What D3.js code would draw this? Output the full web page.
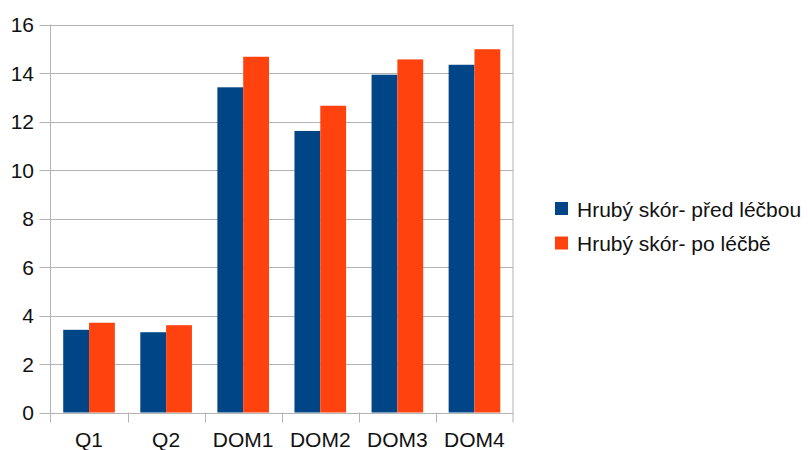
<!DOCTYPE html>
<html>
<head>
<meta charset="utf-8">
<script src="https://cdn.jsdelivr.net/npm/d3@7"></script>
<style>
body { margin: 0; background: #fff; }
text { font-family: "Liberation Sans", Arial, sans-serif; fill: #111; }
</style>
</head>
<body>
<svg id="chart" width="808" height="450"></svg>
<script>
var categories = ['Q1', 'Q2', 'DOM1', 'DOM2', 'DOM3', 'DOM4'];
var seriesNames = ['Hrubý skór- před léčbou', 'Hrubý skór- po léčbě'];
var before = [3.41, 3.31, 13.41, 11.61, 13.93, 14.34];
var after = [3.70, 3.60, 14.67, 12.65, 14.56, 14.98];
var yTicks = [0, 2, 4, 6, 8, 10, 12, 14, 16];
var colors = ['#004586', '#ff420e'];

var svg = d3.select('#chart');
var plotLeft = 50.5, plotRight = 513, plotTop = 24.5, plotBottom = 412.5;

var x = d3.scaleBand().domain(categories).range([plotLeft, plotRight]).paddingInner(0.33).paddingOuter(0.165);
var xSub = d3.scaleBand().domain([0, 1]).range([0, x.bandwidth()]);
var y = d3.scaleLinear().domain([0, 16]).range([plotBottom, plotTop]);

// grid
svg.append('g').selectAll('line').data(yTicks).enter().append('line')
	.attr('x1', plotLeft - 11).attr('x2', plotRight)
	.attr('y1', d => Math.round(y(d)) + 0.5).attr('y2', d => Math.round(y(d)) + 0.5)
	.attr('stroke', '#b3b3b3').attr('stroke-width', 1);

// bars
var data = categories.map((c, i) => [before[i], after[i]]);
var groups = svg.append('g').selectAll('g').data(data).enter().append('g')
	.attr('transform', (d, i) => 'translate(' + x(categories[i]) + ',0)');
groups.selectAll('rect').data(d => d).enter().append('rect')
	.attr('x', (d, j) => xSub(j))
	.attr('y', d => y(d))
	.attr('width', xSub.bandwidth())
	.attr('height', d => y(0) - y(d))
	.attr('fill', (d, j) => colors[j]);

// frame
var step = (plotRight - plotLeft) / categories.length;
svg.append('line').attr('x1', plotLeft).attr('x2', plotLeft).attr('y1', plotTop).attr('y2', plotBottom + 10)
	.attr('stroke', '#b3b3b3');
svg.append('line').attr('x1', plotRight).attr('x2', plotRight).attr('y1', plotTop).attr('y2', plotBottom + 10)
	.attr('stroke', '#b3b3b3');
svg.append('g').selectAll('line').data(d3.range(1, categories.length)).enter().append('line')
	.attr('x1', d => Math.round(plotLeft + d * step) + 0.5).attr('x2', d => Math.round(plotLeft + d * step) + 0.5)
	.attr('y1', plotBottom).attr('y2', plotBottom + 10)
	.attr('stroke', '#b3b3b3');

// y labels
svg.append('g').selectAll('text').data(yTicks).enter().append('text')
	.attr('x', 34).attr('y', d => y(d) + 7.5)
	.attr('text-anchor', 'end').attr('font-size', 21)
	.text(d => d);

// x labels
svg.append('g').selectAll('text').data(categories).enter().append('text')
	.attr('x', d => x(d) + x.bandwidth() / 2).attr('y', 447)
	.attr('text-anchor', 'middle').attr('font-size', 21)
	.text(d => d);

// legend
var legend = svg.append('g').selectAll('g').data(seriesNames).enter().append('g')
	.attr('transform', (d, i) => 'translate(555,' + (202 + i * 34.5) + ')');
legend.append('rect').attr('width', 13).attr('height', 13).attr('fill', (d, i) => colors[i]);
legend.append('text').attr('x', 22).attr('y', 14.5).attr('font-size', 21).text(d => d);
</script>
</body>
</html>
